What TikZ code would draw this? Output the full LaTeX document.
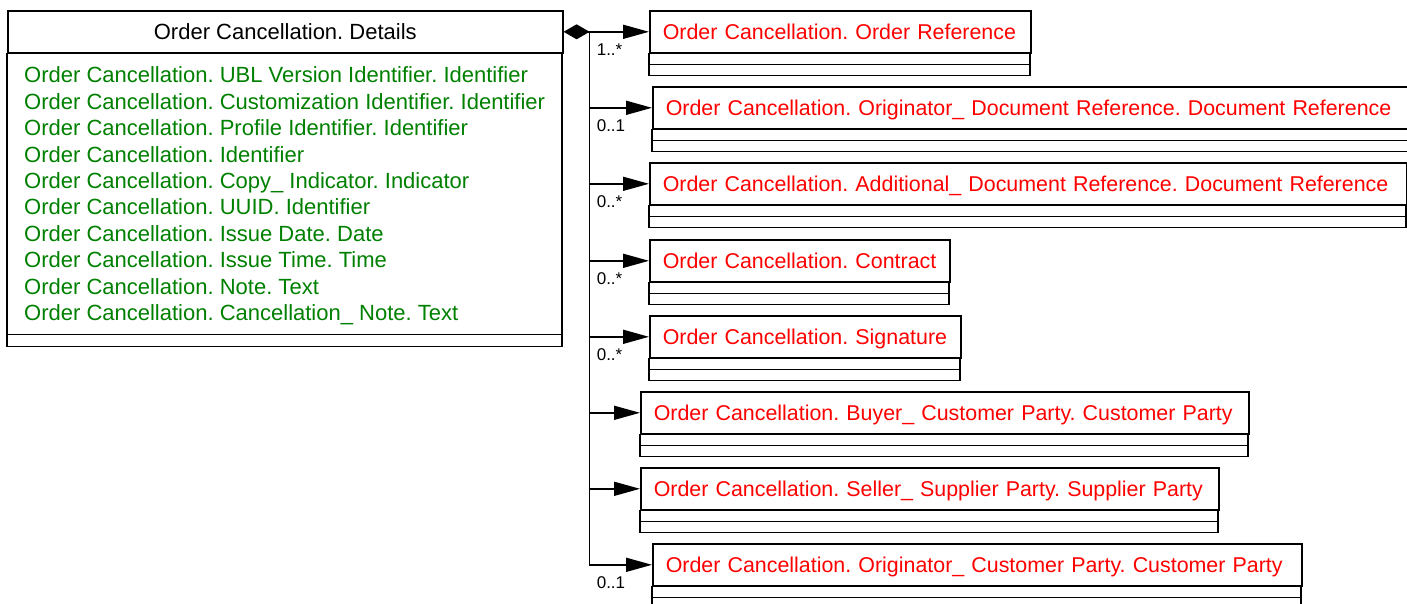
\documentclass[tikz,border=0pt]{standalone}
\usepackage{fontspec}
\setmainfont{Liberation Sans}
\usetikzlibrary{arrows.meta,
                calc}
\definecolor{attrgreen}{RGB}{0,128,0}

\begin{document}
\frenchspacing
\begin{tikzpicture}[x=1pt, y=-1pt,
   font=\fontsize{22}{26}\selectfont,
   box/.style={line width=1.6pt},
   clshead/.style={draw, box, anchor=north west, minimum height=42pt,
                   inner xsep=13pt, inner ysep=0pt, text height=18pt, text depth=3pt},
   reftext/.style={text=red, font=\fontsize{21.4}{26}\selectfont},
   attr/.style={anchor=base west, inner sep=0pt, text=attrgreen},
   mult/.style={anchor=base west, inner sep=0pt, font=\fontsize{17}{20}\selectfont},
   assoc/.style={box, -{Triangle[length=26pt,width=14pt]}}]
 \clip (0,0) rectangle (1407,603);
 \node[clshead, minimum width=555pt] (details) at (7,10) {Order Cancellation. Details};
 \draw[box] (details.south west) rectangle ++(555,281) ++(-555,0) rectangle ++(555,12);
 \foreach \a [count=\i] in {Order Cancellation. UBL Version Identifier. Identifier,
     Order Cancellation. Customization Identifier. Identifier,
     Order Cancellation. Profile Identifier. Identifier,
     Order Cancellation. Identifier,
     Order Cancellation. Copy\_ Indicator. Indicator,
     Order Cancellation. UUID. Identifier,
     Order Cancellation. Issue Date. Date,
     Order Cancellation. Issue Time. Time,
     Order Cancellation. Note. Text,
     Order Cancellation. Cancellation\_ Note. Text}
   \node[attr] (attr\i) at (24,{82.7+26.44*(\i-1)}) {\a};
 \coordinate (bus) at ($(details.east)+(26,0)$);
 \draw[box, {Diamond[length=26pt,width=15pt]}-] (details.east) -- (bus);
 \foreach \n/\x/\y/\w/\t in {
     ordref/649/10/381/Order Cancellation. Order Reference,
     origdoc/652/86/770/Order Cancellation. Originator\_ Document Reference. Document Reference,
     adddoc/649/162/757/Order Cancellation. Additional\_ Document Reference. Document Reference,
     contract/649/239/300/Order Cancellation. Contract,
     signature/649/315/311/Order Cancellation. Signature,
     buyer/640/391/608/Order Cancellation. Buyer\_ Customer Party. Customer Party,
     seller/640/467/578/Order Cancellation. Seller\_ Supplier Party. Supplier Party,
     origcust/652/543/649/Order Cancellation. Originator\_ Customer Party. Customer Party}
 {
   \pgfmathsetlengthmacro\tw{\w-26}
   \node[clshead, reftext, minimum width=\w, text width=\tw, align=left] (\n) at (\x,\y) {\mbox{\t}};
   \draw[box] (\n.south west) rectangle ++(\w,11) ++(-\w,0) rectangle ++(\w,11);
   \draw[assoc] (bus) |- (\n.west);
 }
 \foreach \n/\m in {ordref/1..*, origdoc/0..1, adddoc/0..*, contract/0..*,
                    signature/0..*, origcust/0..1}
   \node[mult] (m-\n) at ($(bus |- \n.west)+(7,24)$) {\m};
\end{tikzpicture}
\end{document}
